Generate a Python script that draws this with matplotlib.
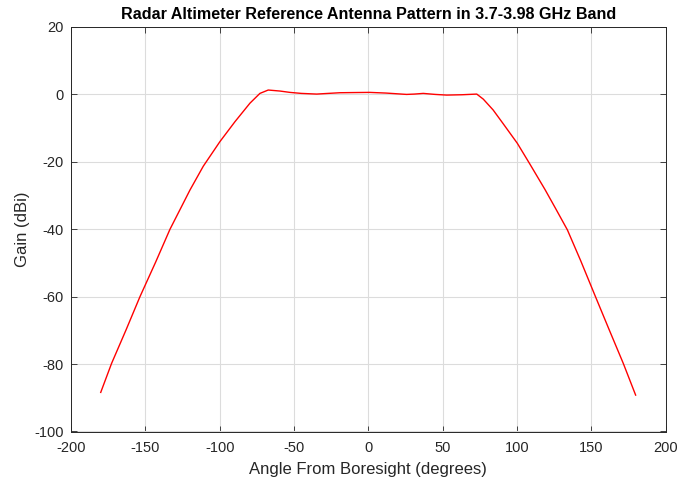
import numpy as np
from matplotlib import pyplot as plt

plt.rcParams['font.family'] = ['Liberation Sans', 'DejaVu Sans']
plt.rcParams['axes.unicode_minus'] = False

# pattern
angle = [-180, -172.7, -163, -153.6, -143, -133.4, -126, -120, -111, -99.8, -89.7, -79.6, -72.9, -67.3,
         -59.4, -52.7, -45, -34.7, -27, -19, -10, 1, 12, 25.8, 31, 37, 45, 52.8, 63, 73,
         77.4, 84, 90.8, 100.3, 108.8, 118.9, 126, 134, 143, 152.6, 162, 171.6, 179.9]
gain = [-88.4, -79.8, -69.9, -60.0, -49.7, -40.0, -33.6, -28.4, -21.3, -14.0, -8.1, -2.6, 0.3, 1.3,
        1.0, 0.6, 0.3, 0.1, 0.3, 0.5, 0.55, 0.6, 0.4, 0.0, 0.1, 0.3, 0.0, -0.2, -0.1, 0.1,
        -1.4, -4.6, -8.7, -14.5, -20.7, -28.2, -33.8, -40.2, -49.4, -59.7, -69.7, -79.8, -89.2]

fig = plt.figure(figsize=(6.79, 4.82), dpi=100)
ax = fig.add_axes([71 / 679, 1 - 431.5 / 482, (665.5 - 71) / 679, (431.5 - 27) / 482])

ax.plot(angle, gain, color='#ff0000', linewidth=1.0)

ax.set_xlim(-200, 200)
ax.set_ylim(-100, 20)
ax.set_xticks(np.arange(-200, 201, 50))
ax.set_yticks(np.arange(-100, 21, 20))
ax.grid(True, color='#dcdcdc', linewidth=0.8)
ax.set_axisbelow(True)
ax.tick_params(direction='in', length=4, width=0.6, colors='#262626', labelsize=10.5,
               top=True, right=True, labeltop=False, labelright=False)
ax.tick_params(axis='x', pad=7)
ax.tick_params(axis='y', pad=5)
for s in ax.spines.values():
    s.set_color('#262626')
    s.set_linewidth(0.7)

ax.set_xlabel('Angle From Boresight (degrees)', fontsize=12, color='#262626', labelpad=5)
ax.set_ylabel('Gain (dBi)', fontsize=12, color='#262626', labelpad=3)
ax.set_title('Radar Altimeter Reference Antenna Pattern in 3.7-3.98 GHz Band',
             fontsize=11.6, fontweight='bold', pad=6)

fig.savefig('out.png', dpi=100)
